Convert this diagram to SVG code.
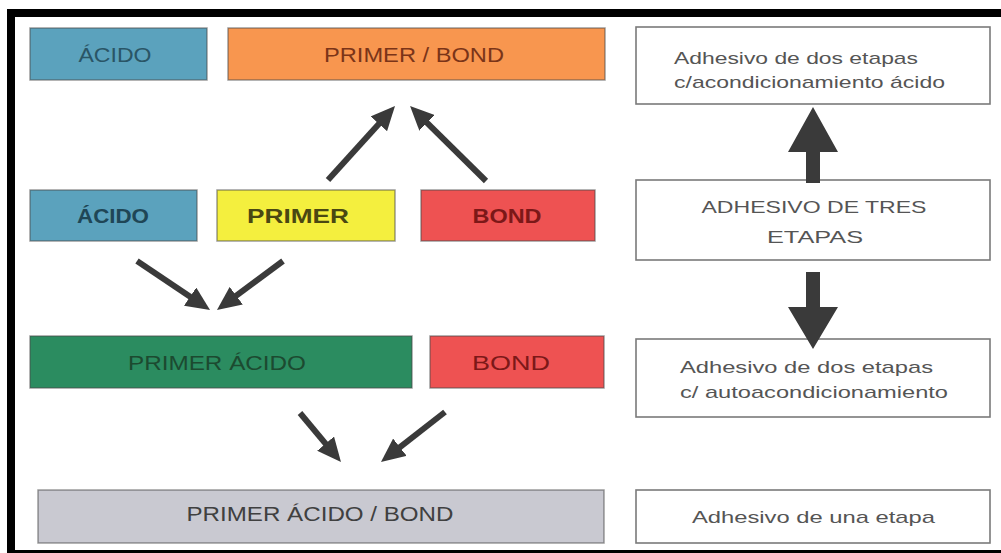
<svg xmlns="http://www.w3.org/2000/svg" width="1001" height="553" viewBox="0 0 1001 553">
<style>
  text { font-family: "Liberation Sans", Arial, sans-serif; }
  .box { stroke: #4a4a4a; stroke-opacity: 0.55; stroke-width: 1.5; }
  .wbox { fill: #ffffff; stroke: #7a7a7a; stroke-width: 1.6; }
  .lbl { font-size: 20px; text-anchor: middle; }
  .bold { font-weight: bold; }
  .side { font-size: 17px; fill: #555555; }
  .conn { stroke: #3a3a3a; stroke-width: 6; fill: none; marker-end: url(#head); }
  .big { fill: #3a3a3a; }
</style>
<defs>
  <marker id="head" viewBox="0 0 24 22" refX="10" refY="11" markerWidth="24" markerHeight="22" markerUnits="userSpaceOnUse" orient="auto">
    <path d="M0,0 L24,11 L0,22 z" fill="#3a3a3a"/>
  </marker>
</defs>
<rect x="0" y="0" width="1001" height="553" fill="#ffffff"/>
<g id="frame">
  <rect x="7" y="9" width="994" height="8" fill="#000000"/>
  <rect x="7" y="9" width="8" height="544" fill="#000000"/>
  <rect x="7" y="550" width="994" height="3" fill="#000000"/>
</g>

<g id="acido-top">
  <rect class="box" x="30" y="28" width="177" height="52" fill="#5ba2bd"/>
  <text class="lbl" x="115" y="62" fill="#2a5566" textLength="73" lengthAdjust="spacingAndGlyphs">ÁCIDO</text>
</g>
<g id="primer-bond-top">
  <rect class="box" x="228" y="28" width="377" height="52" fill="#f8964f"/>
  <text class="lbl" x="414" y="62" fill="#7a3418" textLength="180" lengthAdjust="spacingAndGlyphs">PRIMER / BOND</text>
</g>
<g id="acido-mid">
  <rect class="box" x="30" y="190" width="167" height="51" fill="#5ba2bd"/>
  <text class="lbl bold" x="113" y="223" fill="#1f4656" textLength="72" lengthAdjust="spacingAndGlyphs">ÁCIDO</text>
</g>
<g id="primer-mid">
  <rect class="box" x="217" y="190" width="178" height="51" fill="#f4ef3e"/>
  <text class="lbl bold" x="298" y="223" fill="#4a4812" textLength="102" lengthAdjust="spacingAndGlyphs">PRIMER</text>
</g>
<g id="bond-mid">
  <rect class="box" x="421" y="190" width="174" height="51" fill="#ee5252"/>
  <text class="lbl bold" x="507" y="223" fill="#7c1818" textLength="69" lengthAdjust="spacingAndGlyphs">BOND</text>
</g>
<g id="primer-acido">
  <rect class="box" x="30" y="336" width="382" height="52" fill="#2b8c60"/>
  <text class="lbl" x="217" y="370" fill="#1c4a30" textLength="178" lengthAdjust="spacingAndGlyphs">PRIMER  ÁCIDO</text>
</g>
<g id="bond-low">
  <rect class="box" x="430" y="336" width="174" height="52" fill="#ee5252"/>
  <text class="lbl" x="511" y="370" fill="#7c1818" textLength="78" lengthAdjust="spacingAndGlyphs">BOND</text>
</g>
<g id="primer-acido-bond">
  <rect class="box" x="38" y="490" width="566" height="53" fill="#c9c9d1"/>
  <text class="lbl" x="320" y="521" fill="#404040" textLength="267" lengthAdjust="spacingAndGlyphs">PRIMER ÁCIDO /  BOND</text>
</g>

<g id="dos-etapas-acido">
  <rect class="wbox" x="636" y="27" width="354" height="77"/>
  <text class="side" x="674" y="64" textLength="244" lengthAdjust="spacingAndGlyphs">Adhesivo de dos etapas</text>
  <text class="side" x="674" y="88" textLength="271" lengthAdjust="spacingAndGlyphs">c/acondicionamiento ácido</text>
</g>
<g id="tres-etapas">
  <rect class="wbox" x="636" y="180" width="354" height="80"/>
  <text class="side" x="814" y="213" text-anchor="middle" textLength="225" lengthAdjust="spacingAndGlyphs">ADHESIVO DE TRES</text>
  <text class="side" x="815" y="243" text-anchor="middle" textLength="96" lengthAdjust="spacingAndGlyphs">ETAPAS</text>
</g>
<g id="dos-etapas-auto">
  <rect class="wbox" x="636" y="339" width="354" height="78"/>
  <text class="side" x="680" y="373" textLength="253" lengthAdjust="spacingAndGlyphs">Adhesivo de dos etapas</text>
  <text class="side" x="680" y="398" textLength="268" lengthAdjust="spacingAndGlyphs">c/ autoacondicionamiento</text>
</g>
<g id="una-etapa">
  <rect class="wbox" x="636" y="490" width="354" height="53"/>
  <text class="side" x="692" y="523" textLength="243" lengthAdjust="spacingAndGlyphs">Adhesivo de una etapa</text>
</g>

<g id="connectors">
  <line class="conn" x1="328" y1="180" x2="385.6" y2="116.4"/>
  <line class="conn" x1="486" y1="181" x2="420" y2="115.8"/>
  <line class="conn" x1="137" y1="261" x2="198.4" y2="302.2"/>
  <line class="conn" x1="283" y1="261" x2="228.2" y2="301.7"/>
  <line class="conn" x1="300" y1="413" x2="332" y2="451.3"/>
  <line class="conn" x1="445" y1="412" x2="392" y2="453.4"/>
  <polygon class="big" points="806,183 820,183 820,152 838,152 813,107 788,152 806,152"/>
  <polygon class="big" points="806,272 820,272 820,307 838,307 813,349 788,307 806,307"/>
</g>
</svg>
